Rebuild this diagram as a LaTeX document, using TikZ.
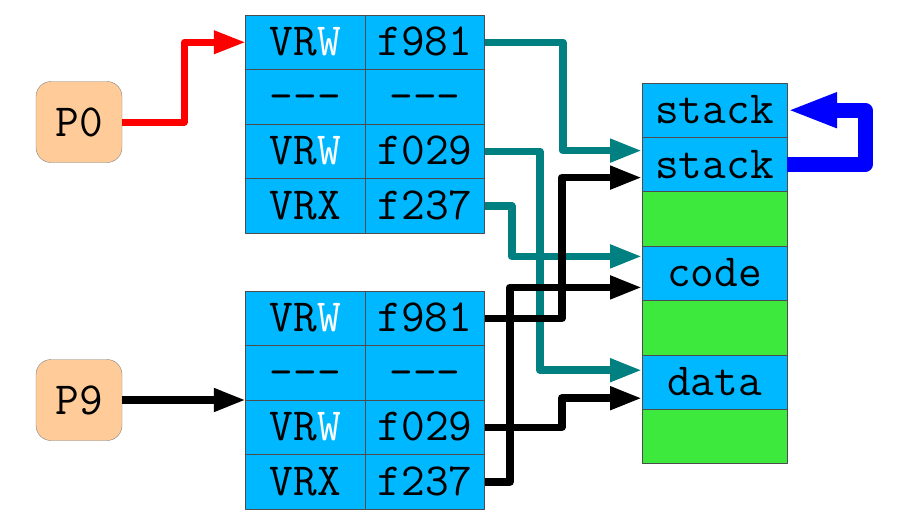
\documentclass[tikz,border=0pt]{standalone}
\usepackage{tikz}
\usetikzlibrary{arrows.meta,positioning}

\definecolor{cellblue}{RGB}{0,184,255}
\definecolor{memgreen}{RGB}{60,233,60}
\definecolor{procorange}{RGB}{255,204,153}
\definecolor{linkteal}{RGB}{0,128,128}
\newcommand{\vrw}{VR\textcolor{white}{W}}
\newcommand{\blank}{-\kern0pt-\kern0pt-}

\begin{document}
\begin{tikzpicture}[x=1pt,y=-1pt,>={Triangle[length=32pt,width=22pt]},line join=round,
                    font=\ttfamily\fontsize{46}{50}\selectfont,
                    cell/.style={draw=gray!60!black,line width=0.8pt,fill=cellblue,
                      minimum width=119.5pt,minimum height=54.5pt,inner sep=0pt,outer sep=0pt,
                      text height=27pt,text depth=0pt},
                    mem/.style={cell,minimum width=145pt,minimum height=54.4pt},
                    free/.style={mem,fill=memgreen},
                    proc/.style={draw=gray,fill=procorange,rounded corners=15pt,
                      minimum width=86pt,minimum height=81pt},
                    link/.style={->,line width=7.5pt,linkteal},
                    ptr/.style={->,line width=7.5pt,black}]
  \useasboundingbox (0,0) rectangle (903,523);

  \node[proc] (p0) at (79,122) {P0};
  \node[proc] (p9) at (79,400) {P9};

  % table of P0
  \node[cell] (ua1) at (305.5,42.25) {\vrw};
  \node[cell] (ua2) [below=0pt of ua1] {\blank};
  \node[cell] (ua3) [below=0pt of ua2] {\vrw};
  \node[cell] (ua4) [below=0pt of ua3] {VRX};
  \node[cell] (uf1) [right=0pt of ua1] {f981};
  \node[cell] (uf2) [right=0pt of ua2] {\blank};
  \node[cell] (uf3) [right=0pt of ua3] {f029};
  \node[cell] (uf4) [right=0pt of ua4] {f237};

  % table of P9
  \node[cell] (la1) at (305.5,318.25) {\vrw};
  \node[cell] (la2) [below=0pt of la1] {\blank};
  \node[cell] (la3) [below=0pt of la2] {\vrw};
  \node[cell] (la4) [below=0pt of la3] {VRX};
  \node[cell] (lf1) [right=0pt of la1] {f981};
  \node[cell] (lf2) [right=0pt of la2] {\blank};
  \node[cell] (lf3) [right=0pt of la3] {f029};
  \node[cell] (lf4) [right=0pt of la4] {f237};

  % memory
  \node[mem] (m1) at (714.5,110.2) {stack};
  \node[mem] (m2) [below=0pt of m1] {stack};
  \node[free] (m3) [below=0pt of m2] {};
  \node[mem] (m4) [below=0pt of m3] {code};
  \node[free] (m5) [below=0pt of m4] {};
  \node[mem] (m6) [below=0pt of m5] {data};
  \node[free] (m7) [below=0pt of m6] {};

  \draw[->,red,line width=7pt] (p0.east) -- ++(62,0) |- (ua1.west);
  \draw[ptr] (p9.east) -- (la3.north west);

  \draw[link] (uf1.east) -- ++(78,0) |- ([yshift=14pt]m2.west);
  \draw[link] (uf3.east) -- ++(55,0) |- ([yshift=12pt]m6.west);
  \draw[link] (uf4.east) -- ++(27,0) |- ([yshift=17pt]m4.west);

  \draw[ptr] (lf1.east) -- ++(77,0) |- ([yshift=-13pt]m2.west);
  \draw[ptr] (lf3.east) -- ++(77,0) |- ([yshift=-16pt]m6.west);
  \draw[ptr] (lf4.east) -- ++(25,0) |- ([yshift=-14pt]m4.west);

  \draw[->,blue,line width=15pt,>={Triangle[length=50pt,width=32pt]}]
    (m2.east) -- ++(78,0) |- (m1.east);
\end{tikzpicture}
\end{document}
